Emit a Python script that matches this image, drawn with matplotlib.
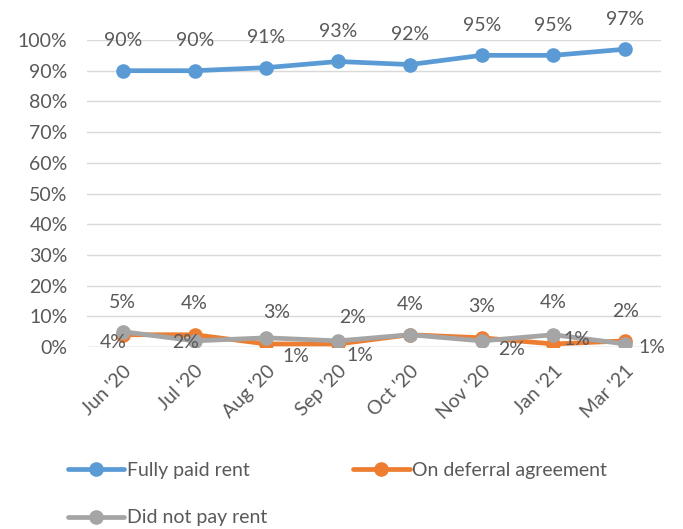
import matplotlib.pyplot as plt
from matplotlib.ticker import PercentFormatter

plt.rcParams['font.family'] = ['Lato', 'DejaVu Sans']

months = ["Jun '20", "Jul '20", "Aug '20", "Sep '20", "Oct '20", "Nov '20", "Jan '21", "Mar '21"]
fully_paid = [90, 90, 91, 93, 92, 95, 95, 97]
deferral = [4, 4, 1, 1, 4, 3, 1, 2]
not_paid = [5, 2, 3, 2, 4, 2, 4, 1]

# label offsets in pixels (dx, dy), hand placed like the original; None = hidden under another label
off_paid = [(0, 30)] * 8
off_def = [(-10, -8), (0, 31), (30, -13), (22, -12), None, (0, 31), (24, 4), (0, 29)]
off_not = [(0, 29), (-9, -2), (10, 25), (14, 23), (0, 30), (30, -9), (0, 32), (27, -4)]

txt = '#595959'
fs = 14
fig = plt.figure(figsize=(6.83, 5.29), dpi=100)
ax = fig.add_axes([0.1274, 0.344, 0.8404, 0.5804])

x = list(range(len(months)))
series = [
    (fully_paid, '#5B9BD5', 'Fully paid rent', off_paid),
    (deferral, '#ED7D31', 'On deferral agreement', off_def),
    (not_paid, '#A5A5A5', 'Did not pay rent', off_not),
]
lines = []
for vals, col, name, offs in series:
    ln, = ax.plot(x, vals, color=col, lw=3.4, marker='o', ms=9.5, label=name, solid_capstyle='round')
    lines.append(ln)
    for xi, v, off in zip(x, vals, offs):
        if off is None:
            continue
        dx, dy = off
        ax.annotate(f'{v}%', (xi, v), xytext=(dx / 1.389, dy / 1.389), textcoords='offset points',
                    ha='center', va='center', fontsize=fs, color=txt)

ax.set_xlim(-0.5, len(months) - 0.5)
ax.set_ylim(0, 100)
ax.set_yticks(range(0, 101, 10))
ax.yaxis.set_major_formatter(PercentFormatter(decimals=0))
ax.set_xticks(x)
ax.set_xticklabels(months, rotation=45, ha='right', rotation_mode='anchor')
ax.tick_params(axis='both', length=0, labelsize=fs, labelcolor=txt)
ax.tick_params(axis='y', pad=14)
ax.tick_params(axis='x', pad=11)
ax.grid(axis='y', color='#D9D9D9', lw=1)
ax.set_axisbelow(True)
for s in ax.spines.values():
    s.set_visible(False)
ax.axhline(0, color='#D9D9D9', lw=1, zorder=0)

# column-major fill: put "Did not pay rent" under "Fully paid rent"
order = [lines[0], lines[2], lines[1]]
leg = fig.legend(order, [l.get_label() for l in order], loc='lower left',
                 bbox_to_anchor=(0.074, -0.028), ncol=2, frameon=False,
                 fontsize=fs, handlelength=2.9, handletextpad=0.15, columnspacing=4.4,
                 labelspacing=1.55)
for t in leg.get_texts():
    t.set_color(txt)

fig.savefig('out.png', dpi=100)
